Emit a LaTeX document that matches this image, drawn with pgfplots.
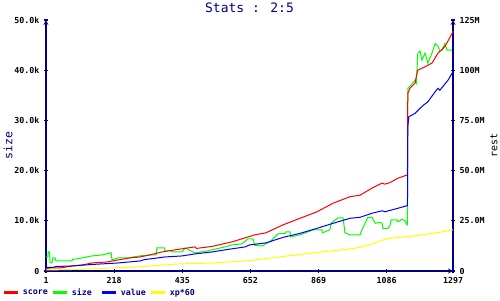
\documentclass[border=0pt]{standalone}
\usepackage{pgfplots}
\pgfplotsset{compat=1.18}
\usepackage{fontspec}
\setmainfont{DejaVu Sans Mono}
\setmonofont{DejaVu Sans Mono}
\definecolor{navy}{RGB}{0,0,128}
\definecolor{cred}{RGB}{255,0,0}
\definecolor{cgreen}{RGB}{0,255,0}
\definecolor{cblue}{RGB}{0,0,255}
\definecolor{cyellow}{RGB}{255,255,0}
\pgfplotsset{
  common/.style={
    scale only axis, width=407pt, height=251pt,
    xmin=1, xmax=1297,
    axis line style={navy, line width=1.2pt, -},
    major tick style={navy, line width=1.2pt},
    major tick length=4pt, tick align=inside,
    minor tick num=0,
    /pgf/number format/assume math mode=true,
    /pgf/number format/1000 sep={},
    tick label style={font=\fontsize{8.3}{10}\selectfont\bfseries, black},
    label style={font=\fontsize{11.5}{13}\selectfont, navy},
    clip=false,
  }
}
\begin{document}
\begin{tikzpicture}
\begin{axis}[common,
  axis x line=bottom, axis y line=left,
  ymin=0, ymax=50,
  xtick={1,218,435,652,869,1086,1297},
  xticklabels={1,218,435,652,869,1086,1297},
  ytick={0,10,20,30,40,50},
  yticklabels={0,10.0k,20.0k,30.0k,40.0k,50.0k},
  yticklabel style={xshift=-1pt},
  xticklabel style={yshift=-1pt},
  ylabel={size},
  ylabel style={at={(axis description cs:-0.0934,0.5)}, anchor=center, rotate=0},
  title={Stats : 2:5},
  every axis title shift=0pt,
  title style={at={(axis description cs:0.5,1)}, anchor=base, yshift=7pt, font=\fontsize{13}{15}\selectfont, navy},
]
\addplot[cgreen, line width=1pt] coordinates {
(1,2.8)(7,2.8)(8,3.8)(12,3.8)(14,1.6)(20,1.6)(23,2.6)(30,2.6)(33,2.0)(84,2.0)(85,2.3)(116,2.6)(147,3.0)(179,3.2)(205,3.6)(209,3.6)(211,2.2)(230,2.6)(262,2.6)(278,2.8)(300,3.0)(332,3.2)(352,3.2)(354,4.6)(378,4.6)(380,4.0)(400,4.0)(402,3.8)(434,3.8)(444,4.6)(469,3.8)(475,3.6)(514,4.0)(571,4.8)(593,5.2)(625,5.4)(644,6.4)(660,6.4)(666,5.1)(690,5.0)(700,5.4)(714,5.8)(740,7.4)(762,7.5)(765,7.8)(778,7.8)(780,6.8)(810,7.2)(835,7.8)(851,8.2)(880,8.2)(881,7.6)(905,8.2)(910,9.6)(931,10.6)(947,10.6)(953,7.6)(969,7.2)(1001,7.2)(1007,8.2)(1026,10.7)(1039,10.7)(1049,9.5)(1064,9.7)(1071,9.5)(1074,8.5)(1090,8.5)(1096,9.0)(1100,10.2)(1119,10.2)(1122,9.8)(1134,10.3)(1145,10.0)(1150,9.2)(1152,9.2)(1153,36.4)(1160,36.8)(1176,38.0)(1180,37.4)(1185,43.4)(1192,43.8)(1198,42.0)(1208,43.4)(1217,41.4)(1230,43.4)(1240,45.3)(1249,44.8)(1255,43.8)(1262,44.0)(1271,45.3)(1278,44.0)(1294,44.0)(1297,45.3)
};
\end{axis}
\begin{axis}[common,
  axis x line=none, axis y line=right,
  ymin=0, ymax=125,
  ytick={0,25,50,75,100,125},
  yticklabels={0,25.0M,50.0M,75.0M,100M,125M},
  yticklabel style={xshift=1pt},
  ylabel={rest},
  ylabel style={at={(axis description cs:1.1007,0.5)}, anchor=center, rotate=0},
  legend columns=-1,
  legend style={at={(axis description cs:-0.1057,-0.0876)}, anchor=west, draw=none, fill=none,
    inner sep=0pt, outer sep=0pt,
    font=\fontsize{8.3}{10}\selectfont\bfseries, text=navy,
    nodes={inner sep=0pt, text width=29pt, align=left},
    /tikz/every odd column/.append style={column sep=3pt}},
  legend image code/.code={\draw[#1, line width=3pt] (0pt,0pt) -- (14pt,0pt);},
]
\addplot[cred, line width=1pt] coordinates {
(1,1.25)(14,1.5)(46,1.5)(84,2.5)(116,3.0)(147,4.0)(195,4.5)(230,5.5)(268,6.5)(300,7.0)(332,8.0)(370,9.5)(421,10.75)(475,12.0)(480,11.25)(530,12.25)(593,14.5)(635,16.5)(666,18.0)(701,19.0)(756,23.0)(810,26.25)(864,29.5)(915,33.75)(969,37.0)(1001,37.75)(1039,41.25)(1071,43.75)(1080,43.25)(1096,44.0)(1122,46.25)(1150,47.75)(1152,47.75)(1153,88.5)(1160,91.0)(1176,93.5)(1180,96.75)(1185,100.0)(1208,101.75)(1230,103.5)(1249,108.5)(1271,111.75)(1294,118.25)(1297,119.5)
};
\addlegendentry{score}
\addlegendimage{cgreen}
\addlegendentry{size}
\addplot[cblue, line width=1pt] coordinates {
(1,1.75)(23,1.75)(33,2.25)(84,2.5)(147,3.25)(230,4.0)(300,5.0)(316,5.75)(332,6.0)(380,7.0)(434,7.5)(475,8.5)(530,9.5)(580,10.75)(635,12.0)(650,13.0)(701,14.0)(756,16.75)(810,18.75)(864,21.25)(915,23.75)(969,26.25)(1001,26.75)(1039,28.75)(1071,30.0)(1080,29.5)(1122,31.25)(1150,32.5)(1152,32.5)(1153,71.25)(1156,76.75)(1176,78.5)(1192,81.0)(1204,82.75)(1217,84.25)(1240,89.25)(1249,91.0)(1255,90.0)(1281,95.0)(1297,99.25)
};
\addlegendentry{value}
\addplot[cyellow, line width=1pt] coordinates {
(1,0.5)(84,0.75)(173,1.25)(268,1.75)(316,2.25)(332,2.5)(421,3.5)(530,4.0)(635,5.0)(666,5.5)(756,7.25)(864,9.25)(969,11.0)(1001,11.75)(1039,13.5)(1090,16.25)(1176,17.5)(1262,19.5)(1297,20.5)
};
\addlegendentry{xp*60}
\end{axis}
\pgfresetboundingbox
\path[use as bounding box] (-46pt,-29pt) rectangle (454pt,271pt);
\end{tikzpicture}
\end{document}
